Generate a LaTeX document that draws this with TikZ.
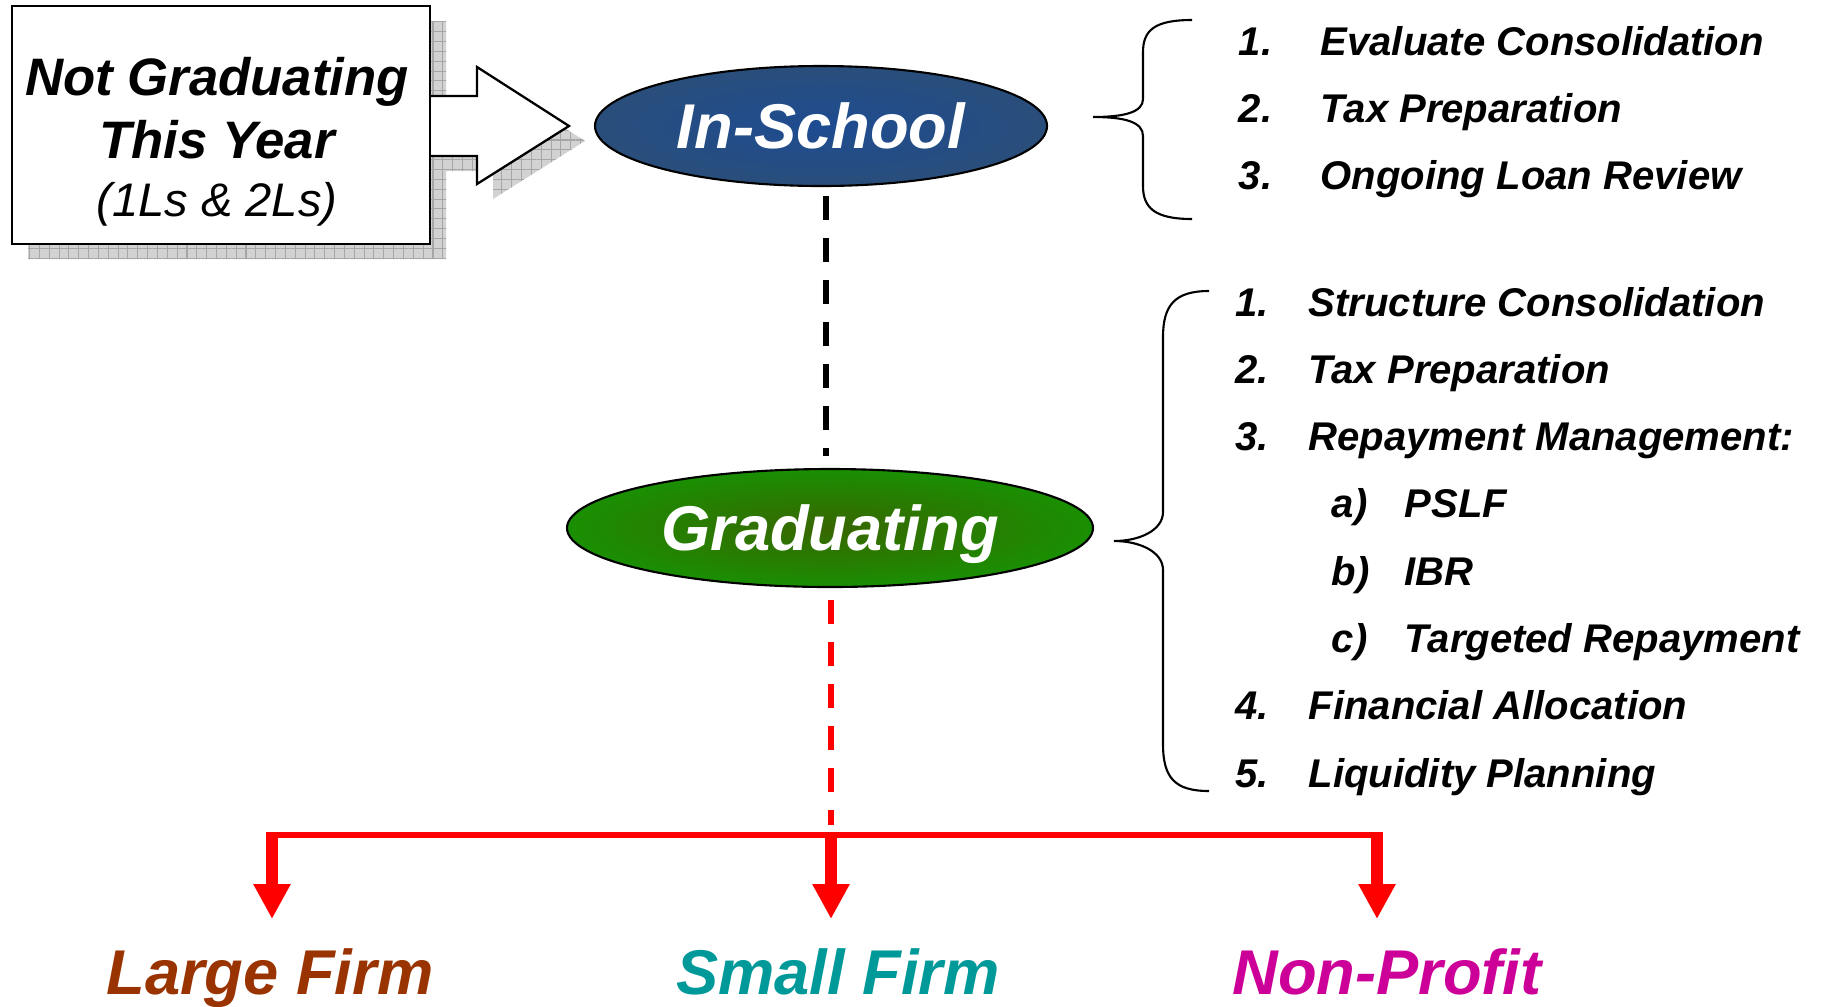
\documentclass[tikz,border=0pt]{standalone}
\usepackage{fontspec}
\setmainfont{Liberation Sans}
\usepackage{tikz}
\usetikzlibrary{shapes.geometric, arrows.meta, patterns.meta}

\definecolor{schoolout}{HTML}{2A4E7B}
\definecolor{schoolin}{HTML}{1E4C91}
\definecolor{gradout}{HTML}{1A8F02}
\definecolor{gradin}{HTML}{386600}
\definecolor{largec}{HTML}{993300}
\definecolor{smallc}{HTML}{009999}
\definecolor{profitc}{HTML}{CC0099}

\tikzset{
  stage/.style={ellipse, draw=black, line width=0.6pt, text=white, inner sep=0pt, text depth=0pt,
    font=\fontsize{18}{20}\selectfont\bfseries\itshape},
  item/.style={anchor=base west, inner sep=0pt, font=\fontsize{11.4}{13}\selectfont\bfseries\itshape},
  firm/.style={anchor=base, inner sep=0pt, font=\fontsize{18}{20}\selectfont\bfseries\itshape},
  shadebox/.style={pattern={Hatch[angle=0, distance=2.8pt, line width=0.3pt]}, pattern color=gray!70,
    preaction={fill=gray!35}},
  brace/.style={black, line width=0.6pt},
  link/.style={line width=1.7pt, dash pattern=on 2.4mm off 1.8mm},
  drop/.style={red, line width=3.3pt, -{Triangle[length=3.5mm, width=3.5mm]}},
}

\begin{document}
\begin{tikzpicture}[x=0.1mm, y=-0.1mm]
  \useasboundingbox (0,0) rectangle (1823,1006);

  \begin{scope}[shift={(16,15)}]
    \fill[shadebox] (12,6) -- (430,6) -- (430,96) -- (477,96) -- (477,67) -- (569,126) -- (477,184)
      -- (477,156) -- (430,156) -- (430,244) -- (12,244) -- cycle;
  \end{scope}
  \draw[fill=white, line width=0.65pt] (430,96) -- (477,96) -- (477,67) -- (569,126) -- (477,184) -- (477,156) -- (430,156);
  \node[draw, fill=white, line width=0.65pt, inner sep=0pt, minimum width=41.8mm, minimum height=23.8mm] (notgrad) at (221,125) {};
  \node[align=center, inner sep=0pt, font=\fontsize{15}{17.9}\selectfont\bfseries\itshape] (notgradtext) at (217,142)
    {Not Graduating\\This Year\\[-1.4pt]{\mdseries\fontsize{13.4}{15}\selectfont (1Ls \& 2Ls)}};

  \node[stage, shading=radial, inner color=schoolin, outer color=schoolout, minimum width=45.2mm, minimum height=12mm] (school) at (821,126) {In-School};
  \node[stage, shading=radial, inner color=gradin, outer color=gradout, minimum width=52.6mm, minimum height=11.8mm] (grad) at (830,528) {Graduating};

  \draw[link, black, shorten <=0.9mm, shorten >=1.2mm] ([xshift=0.5mm]school.south) -- ([xshift=0.5mm]school.south |- grad.north);

  \coordinate (fork) at (831,835);
  \coordinate (tipL) at (272,919);
  \coordinate (tipS) at (831,919);
  \coordinate (tipN) at (1377,919);
  \draw[link, red, shorten <=1.2mm, shorten >=1mm] (grad.south -| fork) -- (fork);
  \draw[red, line width=1.6pt, shorten <=-0.58mm, shorten >=-0.58mm] (tipL |- fork) -- (tipN |- fork);
  \foreach \t in {tipL, tipS, tipN}
    \draw[drop] ([yshift=-0.3mm]\t |- fork) -- (\t);

  \node[firm, text=largec] (large) at (270,994) {Large Firm};
  \node[firm, text=smallc] (small) at (838,994) {Small Firm};
  \node[firm, text=profitc] (profit) at (1387,994) {Non-Profit};

  \draw[brace] (1192,20) .. controls (1155,20) and (1143,30) .. (1143,52) -- (1143,99)
    .. controls (1143,112) and (1125,117) .. (1093,117) .. controls (1125,117) and (1143,122) .. (1143,136)
    -- (1143,186) .. controls (1143,208) and (1155,219) .. (1192,219);
  \foreach \n/\t [count=\i from 0] in {1./Evaluate Consolidation, 2./Tax Preparation, 3./Ongoing Loan Review}
    \node[item] (plan\i) at (1238, 55+67*\i) {\makebox[8.2mm][l]{\n}\t};

  \draw[brace] (1209,291) .. controls (1175,291) and (1163,305) .. (1163,337) -- (1163,512)
    .. controls (1163,530) and (1140,541) .. (1114,541) .. controls (1140,541) and (1163,552) .. (1163,570)
    -- (1163,744) .. controls (1163,778) and (1175,791) .. (1209,791);
  \foreach \x/\n/\t [count=\i from 0] in {1235/1./Structure Consolidation, 1235/2./Tax Preparation,
      1235/3./Repayment Management:, 1331/a)/PSLF, 1331/b)/IBR, 1331/c)/Targeted Repayment,
      1235/4./Financial Allocation, 1235/5./Liquidity Planning}
    \node[item] (step\i) at (\x, 316+67.3*\i) {\makebox[7.3mm][l]{\n}\t};
\end{tikzpicture}
\end{document}
